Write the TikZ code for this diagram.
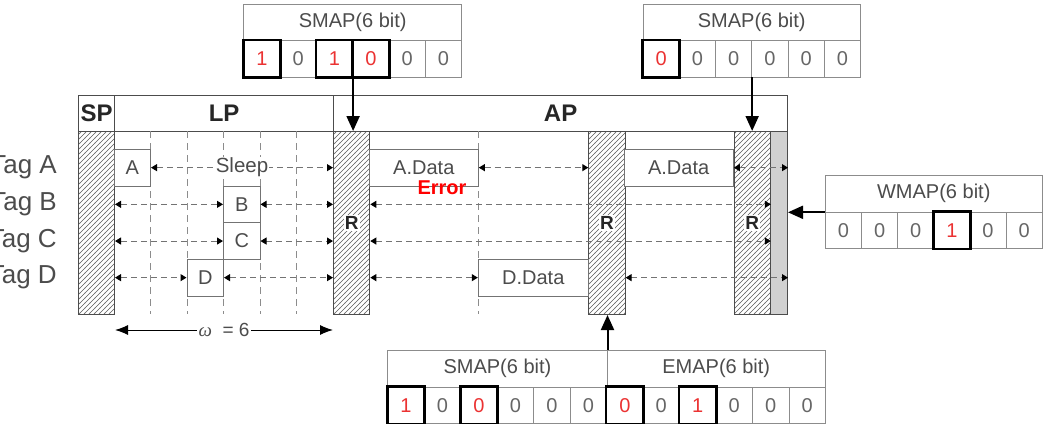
\documentclass[tikz,border=0pt]{standalone}
\usepackage{fontspec}
\setmainfont{Liberation Sans}
\usetikzlibrary{arrows.meta,patterns}

\definecolor{framegray}{gray}{0.3}
\definecolor{hatchgray}{gray}{0.35}
\definecolor{linegray}{gray}{0.45}
\definecolor{gridgray}{gray}{0.55}
\definecolor{txtgray}{gray}{0.3}
\definecolor{bitgray}{gray}{0.4}
\definecolor{bitred}{RGB}{235,50,50}
\definecolor{errred}{RGB}{255,0,0}
\definecolor{colgray}{gray}{0.82}

% wider hatching than north east lines
\pgfdeclarepatternformonly{widehatch}{\pgfqpoint{-1pt}{-1pt}}{\pgfqpoint{6pt}{6pt}}{\pgfqpoint{5pt}{5pt}}{
  \pgfsetlinewidth{0.6pt}
  \pgfpathmoveto{\pgfqpoint{-0.1pt}{-0.1pt}}
  \pgfpathlineto{\pgfqpoint{5.1pt}{5.1pt}}
  \pgfusepath{stroke}}

\tikzset{
  hdr/.style={draw=framegray, line width=1.2pt, fill=white, anchor=north west,
    minimum height=36.5pt, inner sep=0pt, text=black!85,
    font=\fontsize{24pt}{28pt}\selectfont\bfseries},
  hatchcol/.style={draw=framegray, line width=1pt, pattern=widehatch,
    pattern color=hatchgray, anchor=north west, minimum width=36.3pt,
    minimum height=183pt, inner sep=0pt},
  slotbox/.style={draw=linegray, line width=1pt, fill=white, minimum height=36.7pt,
    inner sep=0pt, text=txtgray, font=\fontsize{20pt}{24pt}\selectfont},
  taglab/.style={anchor=east, inner sep=0pt, text=txtgray,
    font=\fontsize{26pt}{30pt}\selectfont},
  sleeparr/.style={draw=linegray, line width=1pt, dash pattern=on 6pt off 4pt,
    {Triangle[length=6pt,width=7pt,color=black]}-{Triangle[length=6pt,width=7pt,color=black]}},
  gridline/.style={draw=gridgray, line width=0.8pt, dash pattern=on 7pt off 5pt},
  rlab/.style={fill=white, inner sep=1pt, text=black!85,
    font=\fontsize{19pt}{22pt}\selectfont\bfseries},
  maphead/.style={draw=gridgray, line width=0.8pt, fill=white, anchor=north west,
    minimum height=36.5pt, inner sep=0pt, text=txtgray,
    font=\fontsize{20pt}{24pt}\selectfont},
  bitcell/.style={draw=gridgray, line width=0.8pt, fill=white, anchor=north west,
    minimum height=36.7pt, inner sep=0pt, font=\fontsize{20pt}{24pt}\selectfont},
  selbox/.style={draw=black, line width=2.5pt},
  maparr/.style={draw=black, line width=2pt, -{Triangle[length=15pt,width=13pt]}},
}

\begin{document}
\begin{tikzpicture}[x=1pt,y=-1pt]
    \useasboundingbox (0,0) rectangle (1046,423);

    % Period headers
    \node[hdr, minimum width=36pt] (sph) at (78,94.5) {SP};
    \node[hdr, minimum width=219pt] (lph) at (114,94.5) {LP};
    \node[hdr, minimum width=454pt] (aph) at (333,94.5) {AP};

    % Grid of the listen period
    \foreach \x in {150.5,187,223.5,260,296.5}
        \draw[gridline] (\x,131) -- (\x,314);
    \draw[gridline] (478.3,131) -- (478.3,314);

    % Hatched columns
    \node[hatchcol, minimum width=36pt] (sp) at (78,131) {};
    \node[hatchcol] (r1) at (333,131) {};
    \node[hatchcol] (r2) at (588.3,131) {};
    \node[hatchcol] (r3) at (733.5,131) {};
    \node[draw=framegray, line width=1pt, fill=colgray, anchor=north west,
          minimum width=17.2pt, minimum height=183pt, inner sep=0pt] (gcol) at (769.8,131) {};

    % Tags
    \node[taglab] (tA) at (57,167.65) {Tag A};
    \node[taglab] (tB) at (57,204.35) {Tag B};
    \node[taglab] (tC) at (57,241.05) {Tag C};
    \node[taglab] (tD) at (57,277.65) {Tag D};

    % Slots
    \node[slotbox, minimum width=36.5pt] (a) at (132.25,167.65) {A};
    \node[slotbox, minimum width=36.5pt] (b) at (241.75,204.35) {B};
    \node[slotbox, minimum width=36.5pt] (c) at (241.75,241.05) {C};
    \node[slotbox, minimum width=36.5pt] (d) at (205.25,277.65) {D};
    \node[slotbox, minimum width=109pt] (adata1) at (423.8,167.65) {A.Data};
    \node[slotbox, minimum width=109.3pt] (adata2) at (678.65,167.65) {A.Data};
    \node[slotbox, minimum width=110pt] (ddata) at (533.3,277.65) {D.Data};
    \node[text=errred, inner sep=0pt, font=\fontsize{20pt}{24pt}\selectfont\bfseries]
        (err) at (442,188) {Error};

    % Sleep arrows, LP
    \draw[sleeparr] (a.east) -- node[fill=white, inner sep=1pt, text=txtgray,
        font=\fontsize{20.5pt}{24pt}\selectfont] (sl) {Sleep} (a.east -| r1.west);
    \draw[sleeparr] (b.west -| sp.east) -- (b.west);
    \draw[sleeparr] (b.east) -- (b.east -| r1.west);
    \draw[sleeparr] (c.west -| sp.east) -- (c.west);
    \draw[sleeparr] (c.east) -- (c.east -| r1.west);
    \draw[sleeparr] (d.west -| sp.east) -- (d.west);
    \draw[sleeparr] (d.east) -- (d.east -| r1.west);

    % Sleep arrows, AP
    \draw[sleeparr] (adata1.east) -- (adata1.east -| r2.west);
    \draw[sleeparr] (adata2.east) -- (adata2.east -| gcol.east);
    \draw[sleeparr] (b.east -| r1.east) -- (b.east -| r3.east);
    \draw[sleeparr] (c.east -| r1.east) -- (c.east -| r3.east);
    \draw[sleeparr] (d.east -| r1.east) -- (ddata.west);
    \draw[sleeparr] (ddata.east -| r2.east) -- (ddata.east -| gcol.east);

    % R labels
    \foreach \r in {r1,r2,r3}
        \node[rlab] (lab\r) at (\r) {R};

    % Window width
    \coordinate (wy) at (0,330);
    \draw[black, line width=1pt, {Latex[length=13pt,width=10pt]}-{Latex[length=13pt,width=10pt]}]
        (sp.east |- wy) -- node[fill=white, inner sep=2pt, text=txtgray,
        font=\fontsize{19pt}{23pt}\selectfont] (om) {{\fontspec{Liberation Serif}\itshape ω}\ \ = 6} (r1.west |- wy);

    % SMAP, first round
    \node[maphead, minimum width=218pt] (s1h) at (243.3,3.5) {SMAP(6 bit)};
    \foreach \v/\c [count=\i] in {1/bitred,0/bitgray,1/bitred,0/bitred,0/bitgray,0/bitgray}
        \node[bitcell, minimum width=36.33pt, text=\c] (s1b\i) at ({243.3+(\i-1)*36.33},39.8) {\v};
    \foreach \i in {1,3,4}
        \draw[selbox] (s1b\i.north west) rectangle (s1b\i.south east);

    % SMAP, second round
    \node[maphead, minimum width=217.3pt] (s2h) at (642.7,3.5) {SMAP(6 bit)};
    \foreach \v/\c [count=\i] in {0/bitred,0/bitgray,0/bitgray,0/bitgray,0/bitgray,0/bitgray}
        \node[bitcell, minimum width=36.22pt, text=\c] (s2b\i) at ({642.7+(\i-1)*36.22},39.8) {\v};
    \draw[selbox] (s2b1.north west) rectangle (s2b1.south east);

    % SMAP and EMAP, bottom
    \node[maphead, minimum width=219.4pt] (sbh) at (387.3,350) {SMAP(6 bit)};
    \node[maphead, minimum width=218.3pt] (ebh) at (606.7,350) {EMAP(6 bit)};
    \foreach \v/\c [count=\i] in {1/bitred,0/bitgray,0/bitred,0/bitgray,0/bitgray,0/bitgray,
                                  0/bitred,0/bitgray,1/bitred,0/bitgray,0/bitgray,0/bitgray}
        \node[bitcell, minimum width=36.48pt, text=\c] (sb\i) at ({387.3+(\i-1)*36.48},386.5) {\v};
    \foreach \i in {1,3,7,9}
        \draw[selbox] (sb\i.north west) rectangle (sb\i.south east);

    % WMAP
    \node[maphead, minimum width=216.7pt] (wh) at (825,175) {WMAP(6 bit)};
    \foreach \v/\c [count=\i] in {0/bitgray,0/bitgray,0/bitgray,1/bitred,0/bitgray,0/bitgray}
        \node[bitcell, minimum width=36.12pt, text=\c] (wb\i) at ({825+(\i-1)*36.12},211.5) {\v};
    \draw[selbox] (wb4.north west) rectangle (wb4.south east);

    % Map arrows
    \draw[maparr] (s1b3.south east) -- (s1b3.south east |- r1.north);
    \draw[maparr] (s2b3.south east) -- (s2b3.south east |- r3.north);
    \draw[maparr] (sbh.north east) -- (sbh.north east |- r2.south);
    \draw[maparr] (wh.south west) -- (wh.south west -| gcol.east);
\end{tikzpicture}
\end{document}
